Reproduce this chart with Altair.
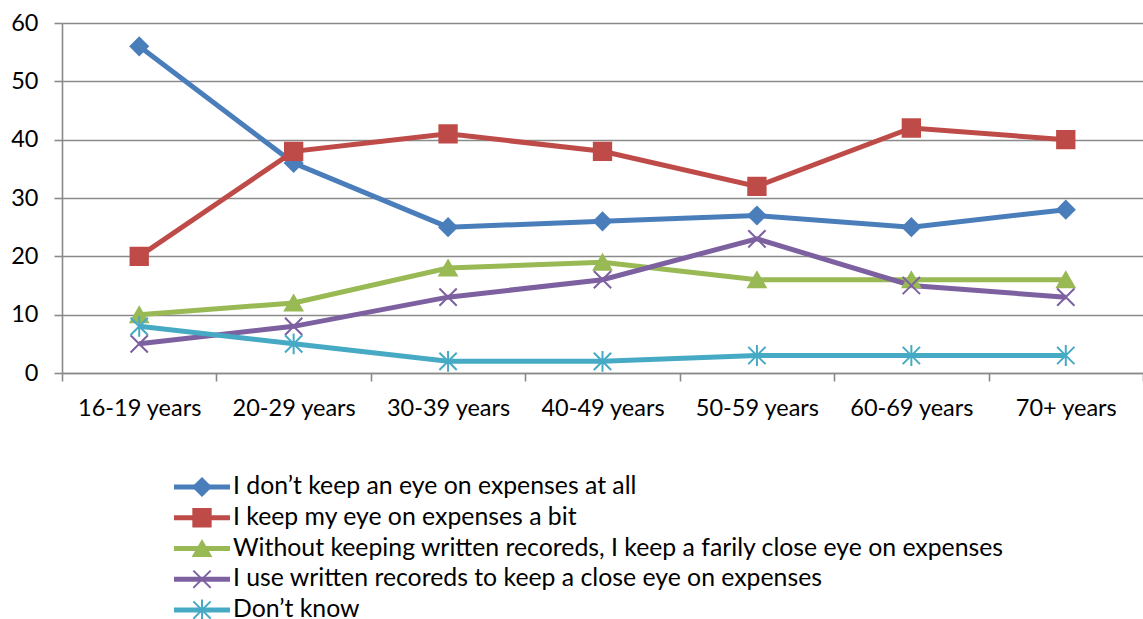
import altair as alt
import pandas as pd

# Age bands on the x axis
age_groups = ["16-19 years", "20-29 years", "30-39 years", "40-49 years",
              "50-59 years", "60-69 years", "70+ years"]

# Survey answers (legend order)
series_names = [
    "I don’t keep an eye on expenses at all",
    "I keep my eye on expenses a bit",
    "Without keeping written recoreds, I keep a farily close eye on expenses",
    "I use written recoreds to keep a close eye on expenses",
    "Don’t know",
]

# Share of respondents (%) per age band
no_tracking = [56, 36, 25, 26, 27, 25, 28]
tracking_a_bit = [20, 38, 41, 38, 32, 42, 40]
close_no_records = [10, 12, 18, 19, 16, 16, 16]
written_records = [5, 8, 13, 16, 23, 15, 13]
dont_know = [8, 5, 2, 2, 3, 3, 3]

y_ticks = [0, 10, 20, 30, 40, 50, 60]

line_colors = ["#4A7EBB", "#BE4B48", "#98B954", "#7D60A0", "#46AAC5"]
marker_fills = ["#4A7EBB", "#BE4B48", "#98B954", "transparent", "transparent"]
x_mark = "M-1,-1L1,1M-1,1L1,-1"
star_mark = "M-1,-1L1,1M-1,1L1,-1M0,-1.2L0,1.2"
marker_shapes = ["diamond", "square", "triangle-up", x_mark, star_mark]

values_by_series = [no_tracking, tracking_a_bit, close_no_records,
                    written_records, dont_know]
rows = []
for name, vals in zip(series_names, values_by_series):
    for age, v in zip(age_groups, vals):
        rows.append({"age": age, "series": name, "marker": name, "value": v})
df = pd.DataFrame(rows)
legend_df = pd.DataFrame({"series": series_names, "marker": series_names})

FONT = "Lato"
GRID = "#8A8A8A"
FS = 23.5
LEGEND_FS = 24.8
LINE_W = 5
MARKER_SIZE = 300

color_scale = alt.Scale(domain=series_names, range=line_colors)
shape_scale = alt.Scale(domain=series_names, range=marker_shapes)
fill_scale = alt.Scale(domain=series_names, range=marker_fills)

x_enc = alt.X(
    "age:N", sort=age_groups, bandPosition=0.5, title=None,
    scale=alt.Scale(type="band", paddingInner=0, paddingOuter=0),
    axis=alt.Axis(labelAngle=0, tickBand="extent", tickSize=8, tickColor=GRID,
                  tickWidth=1.6, domainColor=GRID, domainWidth=1.6,
                  labelFontSize=FS, labelColor="black", labelPadding=15,
                  labelFont=FONT, grid=False),
)
y_enc = alt.Y(
    "value:Q", title=None,
    scale=alt.Scale(domain=[0, 60], nice=False),
    axis=alt.Axis(values=y_ticks, tickSize=8, tickColor=GRID, tickWidth=1.6,
                  domainColor=GRID, domainWidth=1.6, gridColor=GRID,
                  gridWidth=1.6, labelFontSize=FS, labelColor="black",
                  labelPadding=16, labelFont=FONT),
)

base = alt.Chart(df).encode(x=x_enc, y=y_enc)

lines = base.mark_line(strokeWidth=LINE_W).encode(
    color=alt.Color("series:N", scale=color_scale, legend=None),
)
markers = base.mark_point(size=MARKER_SIZE, strokeWidth=2, opacity=1).encode(
    shape=alt.Shape("marker:N", scale=shape_scale, legend=None),
    stroke=alt.Stroke("marker:N", scale=color_scale, legend=None),
    fill=alt.Fill("marker:N", scale=fill_scale, legend=None),
)
plot_block = alt.layer(lines, markers)

# Legend block under the plot: one row per series, line sample + marker + label
legend_y = alt.Y("series:N", title=None, axis=None,
                 scale=alt.Scale(type="point", domain=series_names,
                                 range=[464, 587], padding=0))
legend_base = alt.Chart(legend_df).encode(y=legend_y)

legend_lines = legend_base.mark_rule(strokeWidth=LINE_W).encode(
    x=alt.value(112), x2=alt.value(168),
    color=alt.Color("series:N", scale=color_scale, legend=None),
)
legend_marks = legend_base.mark_point(size=MARKER_SIZE, strokeWidth=2,
                                      opacity=1).encode(
    x=alt.value(140),
    shape=alt.Shape("marker:N", scale=shape_scale, legend=None),
    stroke=alt.Stroke("marker:N", scale=color_scale, legend=None),
    fill=alt.Fill("marker:N", scale=fill_scale, legend=None),
)
legend_text = legend_base.mark_text(
    align="left", baseline="middle", fontSize=LEGEND_FS, font=FONT,
    color="black",
).encode(x=alt.value(171), text="series:N")

legend_block = alt.layer(legend_lines, legend_marks, legend_text)

chart = (
    alt.layer(plot_block, legend_block)
    .resolve_scale(y="independent")
    .properties(
        width=1081, height=350,
        autosize=alt.AutoSizeParams(type="none"),
        padding={"left": 62, "top": 23, "right": 0, "bottom": 246},
        background="white",
    )
    .configure_view(stroke=None)
    .configure(font=FONT)
)

chart.save("out.html", embed_options={"renderer": "svg", "actions": False})
